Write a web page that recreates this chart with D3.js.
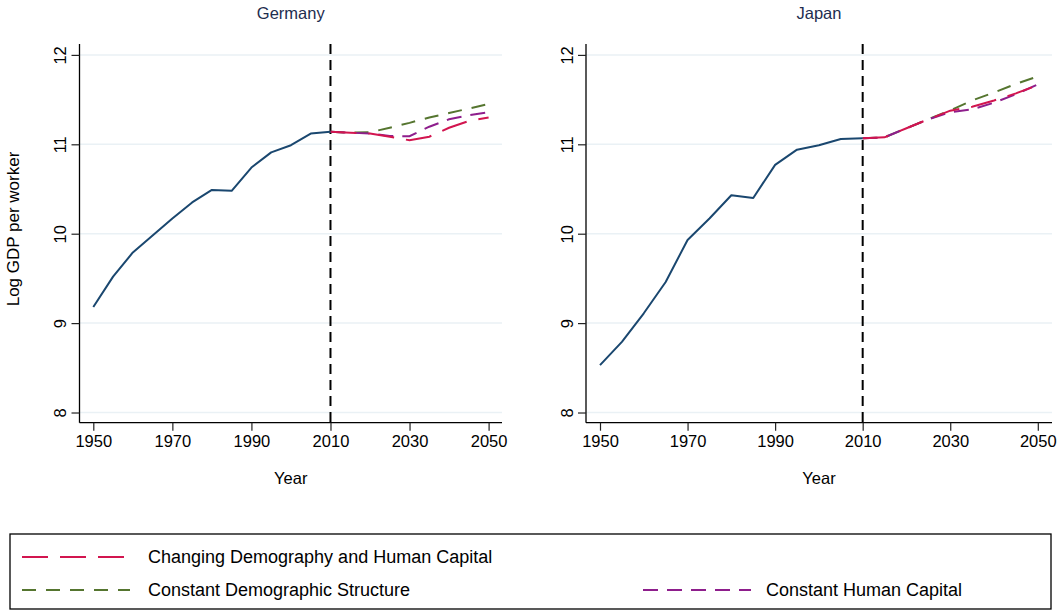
<!DOCTYPE html>
<html>
<head>
<meta charset="utf-8">
<script src="https://cdn.jsdelivr.net/npm/d3@7"></script>
<style>
  body { margin: 0; background: #fff; }
  svg { display: block; font-family: "Liberation Sans", Arial, sans-serif; }
</style>
</head>
<body>
<svg id="chart" width="1058" height="612"></svg>
<script>
// ---- data ----
const histYears = [1950,1955,1960,1965,1970,1975,1980,1985,1990,1995,2000,2005,2010];
const projYears = [2010,2015,2020,2025,2030,2035,2040,2045,2050];

const germanyHist = [9.18,9.52,9.79,9.98,10.17,10.35,10.49,10.48,10.74,10.91,10.99,11.12,11.14];
const germanyChanging = [11.14,11.13,11.12,11.085,11.045,11.085,11.185,11.26,11.30];
const germanyConstDemo = [11.14,11.13,11.134,11.186,11.24,11.30,11.35,11.40,11.45];
const germanyConstHC = [11.14,11.13,11.12,11.093,11.09,11.197,11.28,11.325,11.36];

const japanHist = [8.53,8.79,9.11,9.46,9.93,10.17,10.43,10.40,10.77,10.94,10.99,11.06,11.067];
const japanChanging = [11.067,11.078,11.18,11.28,11.376,11.42,11.49,11.57,11.66];
const japanConstDemo = [11.067,11.078,11.18,11.28,11.38,11.49,11.58,11.675,11.76];
const japanConstHC = [11.067,11.078,11.18,11.28,11.36,11.39,11.465,11.56,11.67];

const xTicks = [1950,1970,1990,2010,2030,2050];
const yTicks = [8,9,10,11,12];
const panelTitles = ["Germany","Japan"];
const seriesNames = ["Changing Demography and Human Capital","Constant Demographic Structure","Constant Human Capital"];
const cutYear = 2010;

// ---- styles ----
const navy = "#1a476f";
const sColors = ["#d2154f", "#55752f", "#8e1e8c"];
const sDash = ["26,12", "14,10", "15,9"];
const gridColor = "#eaf1f5";
const titleColor = "#1e2d4f";

const svg = d3.select("#chart");

const panels = [
  {title: panelTitles[0], hist: germanyHist, proj: [germanyChanging, germanyConstDemo, germanyConstHC],
   x1950: 93.3, x2050: 488.6, axisX: 79.5, right: 502},
  {title: panelTitles[1], hist: japanHist, proj: [japanChanging, japanConstDemo, japanConstHC],
   x1950: 600, x2050: 1037.8, axisX: 586, right: 1052}
];

const yTop = 44, yBottom = 422.7;
const y = d3.scaleLinear().domain([7.886, 12.122]).range([yBottom, yTop]);

panels.forEach((p, i) => {
  const pxPerYear = (p.x2050 - p.x1950) / 100;
  const x = d3.scaleLinear()
    .domain([1950 - (p.x1950 - p.axisX) / pxPerYear, 2050 + (p.right - p.x2050) / pxPerYear])
    .range([p.axisX, p.right]);
  const g = svg.append("g");

  // gridlines
  g.selectAll(".grid").data(yTicks).enter().append("line")
    .attr("x1", p.axisX).attr("x2", p.right)
    .attr("y1", d => y(d)).attr("y2", d => y(d))
    .attr("stroke", gridColor).attr("stroke-width", 1.5);

  // x axis
  const xAxis = d3.axisBottom(x).tickValues(xTicks).tickFormat(d3.format("d")).tickSize(8).tickPadding(5);
  const xg = g.append("g").attr("transform", `translate(0,${yBottom})`).call(xAxis);
  xg.select(".domain").attr("stroke", "#000").attr("stroke-width", 1.3).attr("d", `M${p.axisX},0H${p.right}`);
  xg.selectAll(".tick line").attr("stroke", "#222").attr("stroke-width", 1.2);
  xg.selectAll(".tick text").attr("font-size", 16.5).attr("fill", "#000")
    .attr("font-family", "'Liberation Sans', Arial, sans-serif");

  // y axis
  const yAxis = d3.axisLeft(y).tickValues(yTicks).tickFormat(d3.format("d")).tickSize(8).tickPadding(0);
  const yg = g.append("g").attr("transform", `translate(${p.axisX},0)`).call(yAxis);
  yg.select(".domain").attr("stroke", "#000").attr("stroke-width", 1.3).attr("d", `M0,${yTop}V${yBottom}`);
  yg.selectAll(".tick line").attr("stroke", "#222").attr("stroke-width", 1.2);
  yg.selectAll(".tick text")
    .attr("font-size", 16.5).attr("fill", "#000")
    .attr("font-family", "'Liberation Sans', Arial, sans-serif")
    .attr("x", 0)
    .attr("text-anchor", "middle")
    .attr("transform", "translate(-19,0) rotate(-90)")
    .attr("dy", "0.35em");

  // vertical dashed line at 2010
  g.append("line")
    .attr("x1", x(cutYear)).attr("x2", x(cutYear))
    .attr("y1", yTop).attr("y2", yBottom)
    .attr("stroke", "#000").attr("stroke-width", 2).attr("stroke-dasharray", "10,6");

  // projections (draw green, purple, red order)
  const line = d3.line().x(d => x(d[0])).y(d => y(d[1]));
  [1, 2, 0].forEach(k => {
    g.append("path")
      .datum(projYears.map((yr, j) => [yr, p.proj[k][j]]))
      .attr("fill", "none").attr("stroke", sColors[k]).attr("stroke-width", 2)
      .attr("stroke-dasharray", sDash[k])
      .attr("d", line);
  });

  // historical
  g.append("path")
    .datum(histYears.map((yr, j) => [yr, p.hist[j]]))
    .attr("fill", "none").attr("stroke", navy).attr("stroke-width", 2)
    .attr("stroke-linejoin", "round")
    .attr("d", line);

  // title
  g.append("text").attr("x", (p.axisX + p.right) / 2).attr("y", 19)
    .attr("text-anchor", "middle").attr("font-size", 16.5).attr("fill", titleColor)
    .text(p.title);

  // x label
  g.append("text").attr("x", (p.axisX + p.right) / 2).attr("y", 484)
    .attr("text-anchor", "middle").attr("font-size", 16.5).attr("fill", "#000")
    .text("Year");
});

// y-axis title
svg.append("text")
  .attr("transform", "translate(19,229) rotate(-90)")
  .attr("text-anchor", "middle").attr("font-size", 17).attr("fill", "#000")
  .text("Log GDP per worker");

// legend
const leg = svg.append("g");
leg.append("rect").attr("x", 10).attr("y", 534).attr("width", 1041).attr("height", 75)
  .attr("fill", "#fff").attr("stroke", "#000").attr("stroke-width", 1.3);
const legItems = [
  {k: 0, lx: 22, ly: 557, tx: 148},
  {k: 1, lx: 22, ly: 590, tx: 148},
  {k: 2, lx: 643, ly: 590, tx: 766}
];
legItems.forEach(it => {
  leg.append("line").attr("x1", it.lx).attr("x2", it.lx + 108)
    .attr("y1", it.ly).attr("y2", it.ly)
    .attr("stroke", sColors[it.k]).attr("stroke-width", 2.2)
    .attr("stroke-dasharray", sDash[it.k]);
  leg.append("text").attr("x", it.tx).attr("y", it.ly).attr("dy", "0.35em")
    .attr("font-size", 18).attr("fill", "#000")
    .text(seriesNames[it.k]);
});
</script>
</body>
</html>
